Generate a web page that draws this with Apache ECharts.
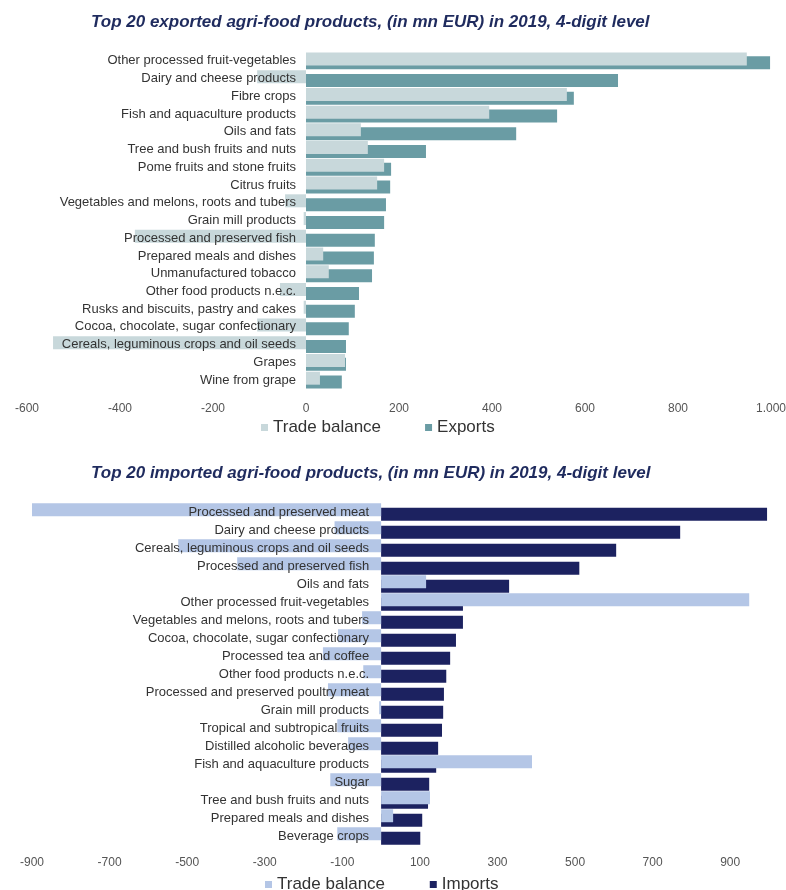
<!DOCTYPE html>
<html>
<head>
<meta charset="utf-8">
<script src="https://cdn.jsdelivr.net/npm/echarts@6/dist/echarts.min.js"></script>
<style>
html,body{margin:0;padding:0;background:#fff;}
#chart{width:786px;height:890px;}
</style>
</head>
<body>
<div id="chart"></div>
<script>
var exportCategories = [
  'Other processed fruit-vegetables','Dairy and cheese products','Fibre crops',
  'Fish and aquaculture products','Oils and fats','Tree and bush fruits and nuts',
  'Pome fruits and stone fruits','Citrus fruits','Vegetables and melons, roots and tubers',
  'Grain mill products','Processed and preserved fish','Prepared meals and dishes',
  'Unmanufactured tobacco','Other food products n.e.c.','Rusks and biscuits, pastry and cakes',
  'Cocoa, chocolate, sugar confectionary','Cereals, leguminous crops and oil seeds',
  'Grapes','Wine from grape'
];
var exportTradeBalance = [948, -105, 561, 394, 118, 133, 168, 153, -45, -5, -368, 37, 49, -56, -5, -105, -544, 84, 30];
var exportValues = [998, 671, 576, 540, 452, 258, 183, 181, 172, 168, 148, 146, 142, 114, 105, 92, 86, 86, 77];

var importCategories = [
  'Processed and preserved meat','Dairy and cheese products','Cereals, leguminous crops and oil seeds',
  'Processed and preserved fish','Oils and fats','Other processed fruit-vegetables',
  'Vegetables and melons, roots and tubers','Cocoa, chocolate, sugar confectionary',
  'Processed tea and coffee','Other food products n.e.c.','Processed and preserved poultry meat',
  'Grain mill products','Tropical and subtropical fruits','Distilled alcoholic beverages',
  'Fish and aquaculture products','Sugar','Tree and bush fruits and nuts',
  'Prepared meals and dishes','Beverage crops'
];
var importTradeBalance = [-900, -120, -523, -371, 116, 949, -49, -111, -150, -46, -137, -5, -113, -85, 389, -131, 126, 31, -113];
var importValues = [995, 771, 606, 511, 330, 211, 211, 193, 178, 168, 162, 160, 157, 147, 142, 124, 121, 106, 101];

var topTicks = [-600, -400, -200, 0, 200, 400, 600, 800, 1000];
var bottomTicks = [-900, -700, -500, -300, -100, 100, 300, 500, 700, 900];

function fmtThousands(v){
  var s = String(Math.abs(v)).replace(/\B(?=(\d{3})+(?!\d))/g, '.');
  return (v < 0 ? '-' : '') + s;
}

var FONT = 'Liberation Sans, Arial, sans-serif';
var c = echarts.init(document.getElementById('chart'), null, {renderer:'canvas'});

var GRID_TOP_LEFT = 27, GRID_BOTTOM_LEFT = 32;

var option = {
  backgroundColor: '#ffffff',
  animation: false,
  title: [
    {text: 'Top 20 exported agri-food products, (in mn EUR) in 2019, 4-digit level', left: 86, top: 9,
     textStyle: {fontFamily: FONT, fontSize: 17, fontWeight: 'bold', fontStyle: 'italic', color: '#1f2b5e'}},
    {text: 'Top 20 imported agri-food products, (in mn EUR) in 2019, 4-digit level', left: 86, top: 460,
     textStyle: {fontFamily: FONT, fontSize: 17, fontWeight: 'bold', fontStyle: 'italic', color: '#1f2b5e'}}
  ],
  legend: [
    {left: 256, top: 414, itemWidth: 7, itemHeight: 7, itemGap: 44, icon: 'rect',
     textStyle: {fontFamily: FONT, fontSize: 17, color: '#333'},
     data: [{name: 'Trade balance', itemStyle: {color: '#c8d8db'}}, {name: 'Exports', itemStyle: {color: '#6a9ca4'}}],
     selectedMode: false},
    {left: 260, top: 871, itemWidth: 7, itemHeight: 7, itemGap: 40, icon: 'rect',
     textStyle: {fontFamily: FONT, fontSize: 17, color: '#333'},
     data: [{name: 'Trade balance ', itemStyle: {color: '#b4c6e6'}}, {name: 'Imports', itemStyle: {color: '#1c2260'}}],
     selectedMode: false}
  ],
  grid: [
    {left: GRID_TOP_LEFT, right: 15, top: 52, height: 337, containLabel: false, outerBoundsMode: 'none'},
    {left: GRID_BOTTOM_LEFT, right: 17, top: 503, height: 342, containLabel: false, outerBoundsMode: 'none'}
  ],
  xAxis: [
    {gridIndex: 0, type: 'value', min: -600, max: 1000, interval: 200,
     axisLine: {show: false}, axisTick: {show: false}, splitLine: {show: false},
     axisLabel: {fontFamily: FONT, fontSize: 12, color: '#555', margin: 14,
       formatter: function(v){ return fmtThousands(v); }}},
    {gridIndex: 1, type: 'value', min: -900, max: 1000, interval: 100,
     axisLine: {show: false}, axisTick: {show: false}, splitLine: {show: false},
     axisLabel: {fontFamily: FONT, fontSize: 12, color: '#555', margin: 12, showMaxLabel: true,
       formatter: function(v){ return bottomTicks.indexOf(v) >= 0 ? String(v) : ''; }}}
  ],
  yAxis: [
    {gridIndex: 0, type: 'category', inverse: true, data: exportCategories, z: 10, position: 'left', offset: 0,
     axisLine: {show: false, onZero: false}, axisTick: {show: false}, splitLine: {show: false},
     axisLabel: {fontFamily: FONT, fontSize: 13, color: '#333', margin: 10}},
    {gridIndex: 1, type: 'category', inverse: true, data: importCategories, z: 10, position: 'left', offset: 0,
     axisLine: {show: false, onZero: false}, axisTick: {show: false}, splitLine: {show: false},
     axisLabel: {fontFamily: FONT, fontSize: 13, color: '#333', margin: 12}}
  ],
  series: [
    {name: 'Trade balance', type: 'bar', xAxisIndex: 0, yAxisIndex: 0, data: exportTradeBalance,
     barWidth: 13, barGap: '-70%', z: 3, itemStyle: {color: '#c8d8db'}},
    {name: 'Exports', type: 'bar', xAxisIndex: 0, yAxisIndex: 0, data: exportValues,
     barWidth: 13, barGap: '-70%', z: 2, itemStyle: {color: '#6a9ca4'}},
    {name: 'Trade balance ', type: 'bar', xAxisIndex: 1, yAxisIndex: 1, data: importTradeBalance,
     barWidth: 13, barGap: '-65%', z: 3, itemStyle: {color: '#b4c6e6'}},
    {name: 'Imports', type: 'bar', xAxisIndex: 1, yAxisIndex: 1, data: importValues,
     barWidth: 13, barGap: '-65%', z: 2, itemStyle: {color: '#1c2260'}}
  ]
};
c.setOption(option);

// place category labels at the value axis zero, as computed by the library's own scale
var zeroTop = c.convertToPixel({xAxisIndex: 0}, 0);
var zeroBottom = c.convertToPixel({xAxisIndex: 1}, 0);
c.setOption({
  yAxis: [
    {offset: -(zeroTop - GRID_TOP_LEFT)},
    {offset: -(zeroBottom - GRID_BOTTOM_LEFT)}
  ]
});
</script>
</body>
</html>
